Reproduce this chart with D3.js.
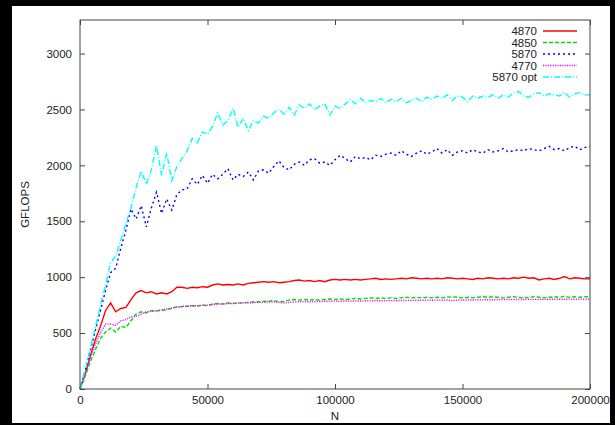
<!DOCTYPE html>
<html>
<head>
<meta charset="utf-8">
<script src="https://cdn.jsdelivr.net/npm/d3@7"></script>
<style>
  html, body { margin: 0; padding: 0; background: #000; }
  svg { display: block; }
  .axis text { font-family: "Liberation Sans", Arial, sans-serif; font-size: 11.5px; fill: #222; }
  .axis line { stroke: #444; }
  .lbl { font-family: "Liberation Sans", Arial, sans-serif; font-size: 11.5px; fill: #222; }
</style>
</head>
<body>
<script>
// N in thousands, sampled every 2000
var nK = [0,2,4,6,8,10,12,14,16,18,20,22,24,26,28,30,32,34,36,38,40,42,44,46,48,50,
  52,54,56,58,60,62,64,66,68,70,72,74,76,78,80,82,84,86,88,90,92,94,96,98,100,
  102,104,106,108,110,112,114,116,118,120,122,124,126,128,130,132,134,136,138,140,
  142,144,146,148,150,152,154,156,158,160,162,164,166,168,170,172,174,176,178,180,
  182,184,186,188,190,192,194,196,198,200];

var g4870 = [0,130,290,440,560,700,770,690,720,730,800,860,880,860,870,850,860,850,870,910,910,
  900,910,905,915,910,930,940,930,935,930,940,930,945,950,955,960,955,960,950,955,
  960,970,975,965,970,960,970,960,975,980,975,980,975,980,975,980,985,990,980,985,
  980,985,990,985,995,990,985,990,985,990,985,995,990,985,990,985,980,990,985,995,
  990,985,990,985,995,990,1000,990,995,975,985,990,980,990,1005,985,995,990,985,985];

var g4850 = [0,110,240,350,450,510,545,510,560,550,610,670,690,680,700,700,700,710,720,735,735,
  740,745,740,750,745,760,765,760,770,765,770,770,775,780,780,785,785,790,780,785,
  795,800,795,800,795,800,795,800,805,800,805,800,805,810,805,810,815,810,815,810,
  815,810,815,820,815,820,815,820,815,820,815,820,825,820,815,820,815,820,825,820,
  825,820,815,820,825,820,815,820,825,820,815,820,825,820,830,820,825,820,825,825];

var g5870 = [0,160,340,520,700,880,1040,1080,1260,1420,1610,1520,1640,1450,1620,1760,1570,1700,1600,1740,1780,
  1790,1880,1830,1910,1840,1920,1880,1920,1970,1870,1920,1900,1940,1870,1950,1960,1930,1990,2040,1980,
  1960,2010,2030,2000,2050,2060,2020,2030,2000,2050,2090,2060,2030,2080,2060,2070,2050,2090,2080,2100,
  2110,2090,2130,2100,2080,2110,2130,2100,2120,2150,2110,2140,2090,2120,2130,2110,2140,2120,2110,2140,
  2120,2130,2150,2120,2130,2140,2130,2150,2140,2130,2150,2170,2140,2150,2130,2160,2170,2140,2160,2170];

var g4770 = [0,130,280,400,500,580,580,570,610,620,645,650,670,690,695,700,710,715,725,730,740,
  740,745,745,750,750,755,760,760,765,765,768,770,770,772,775,775,778,780,775,770,
  775,778,780,782,780,783,782,785,784,786,785,787,786,788,787,789,788,790,789,791,
  790,792,791,793,792,794,793,795,794,795,794,796,790,795,796,797,796,798,797,799,
  798,800,799,800,800,801,800,802,801,802,801,803,802,803,802,804,803,804,803,805];

var g5870opt = [0,170,360,550,740,930,1130,1190,1330,1480,1620,1800,1950,1830,1960,2180,1910,2110,1860,1990,2060,
  2130,2240,2200,2300,2280,2350,2470,2360,2400,2510,2340,2420,2310,2400,2380,2440,2420,2470,2500,2460,
  2520,2450,2540,2510,2550,2500,2530,2550,2450,2530,2510,2550,2590,2550,2600,2560,2580,2570,2600,2560,
  2590,2570,2600,2560,2580,2600,2570,2610,2590,2620,2600,2630,2580,2620,2610,2570,2620,2600,2620,2610,
  2630,2600,2630,2610,2650,2660,2620,2610,2640,2650,2620,2640,2630,2620,2650,2610,2640,2650,2630,2630];

var seriesNames = ["4870", "4850", "5870", "4770", "5870 opt"];
var seriesData = [g4870, g4850, g5870, g4770, g5870opt];
var seriesColors = ["#ff0000", "#00e000", "#0000ff", "#ff00ff", "#00ffff"];
var seriesDash = [null, "4,2", "2,3", "1.2,1.2", "6,2,1,2"];

var xTicks = [0, 50000, 100000, 150000, 200000];
var yTicks = [0, 500, 1000, 1500, 2000, 2500, 3000];

(function() {
  var W = 615, H = 425;
  var pl = 80, pr = 590, pt = 20, pb = 389;

  var svg = d3.select("body").append("svg").attr("width", W).attr("height", H);

  svg.append("rect").attr("x", 0).attr("y", 0).attr("width", W).attr("height", H).attr("fill", "#000");
  svg.append("rect").attr("x", 12).attr("y", 6).attr("width", 598).attr("height", 417).attr("fill", "#fff");

  var x = d3.scaleLinear().domain([0, 200000]).range([pl, pr]);
  var y = d3.scaleLinear().domain([0, 3300]).range([pb, pt]);

  // axes, ticks pointing inward like gnuplot
  svg.append("g").attr("class", "axis")
    .attr("transform", "translate(" + pl + ",0)")
    .call(d3.axisLeft(y).tickValues(yTicks).tickSize(-5).tickPadding(8).tickFormat(d3.format("d")))
    .call(function(g) { g.select(".domain").remove(); });
  svg.append("g").attr("class", "axis")
    .attr("transform", "translate(" + pr + ",0)")
    .call(d3.axisRight(y).tickValues(yTicks).tickSize(-5).tickFormat(""))
    .call(function(g) { g.select(".domain").remove(); });
  svg.append("g").attr("class", "axis")
    .attr("transform", "translate(0," + pb + ")")
    .call(d3.axisBottom(x).tickValues(xTicks).tickSize(-5).tickPadding(7).tickFormat(d3.format("d")))
    .call(function(g) { g.select(".domain").remove(); });
  svg.append("g").attr("class", "axis")
    .attr("transform", "translate(0," + pt + ")")
    .call(d3.axisTop(x).tickValues(xTicks).tickSize(-5).tickFormat(""))
    .call(function(g) { g.select(".domain").remove(); });

  var line = d3.line()
    .x(function(d) { return x(d[0] * 1000); })
    .y(function(d) { return y(d[1]); });

  // draw in gnuplot order so later series sit on top
  seriesData.forEach(function(vals, i) {
    var pts = nK.map(function(n, j) { return [n, vals[j]]; });
    svg.append("path")
      .datum(pts)
      .attr("fill", "none")
      .attr("stroke", seriesColors[i])
      .attr("stroke-width", 1.4)
      .attr("stroke-dasharray", seriesDash[i])
      .attr("d", line);
  });

  svg.append("rect")
    .attr("x", pl).attr("y", pt)
    .attr("width", pr - pl).attr("height", pb - pt)
    .attr("fill", "none").attr("stroke", "#444").attr("stroke-width", 1);

  // legend
  var leg = svg.append("g").selectAll("g")
    .data(seriesNames)
    .enter().append("g")
    .attr("transform", function(d, i) { return "translate(0," + (31 + i * 11.5) + ")"; });
  leg.append("text")
    .attr("class", "lbl")
    .attr("x", 537).attr("y", 0).attr("dy", "0.35em")
    .attr("text-anchor", "end")
    .text(function(d) { return d; });
  leg.append("line")
    .attr("x1", 543).attr("x2", 577).attr("y1", 0).attr("y2", 0)
    .attr("stroke", function(d, i) { return seriesColors[i]; })
    .attr("stroke-width", 1.4)
    .attr("stroke-dasharray", function(d, i) { return seriesDash[i]; });

  svg.append("text").attr("class", "lbl")
    .attr("x", (pl + pr) / 2).attr("y", 420)
    .attr("text-anchor", "middle").text("N");
  svg.append("text").attr("class", "lbl")
    .attr("transform", "translate(29," + ((pt + pb) / 2) + ") rotate(-90)")
    .attr("text-anchor", "middle").text("GFLOPS");

  // right black strip overlaps the cut-off tick label
  svg.append("rect").attr("x", 610).attr("y", 0).attr("width", 5).attr("height", H).attr("fill", "#000");
  svg.append("rect").attr("x", 0).attr("y", 423).attr("width", W).attr("height", 2).attr("fill", "#000");
})();
</script>
</body>
</html>
